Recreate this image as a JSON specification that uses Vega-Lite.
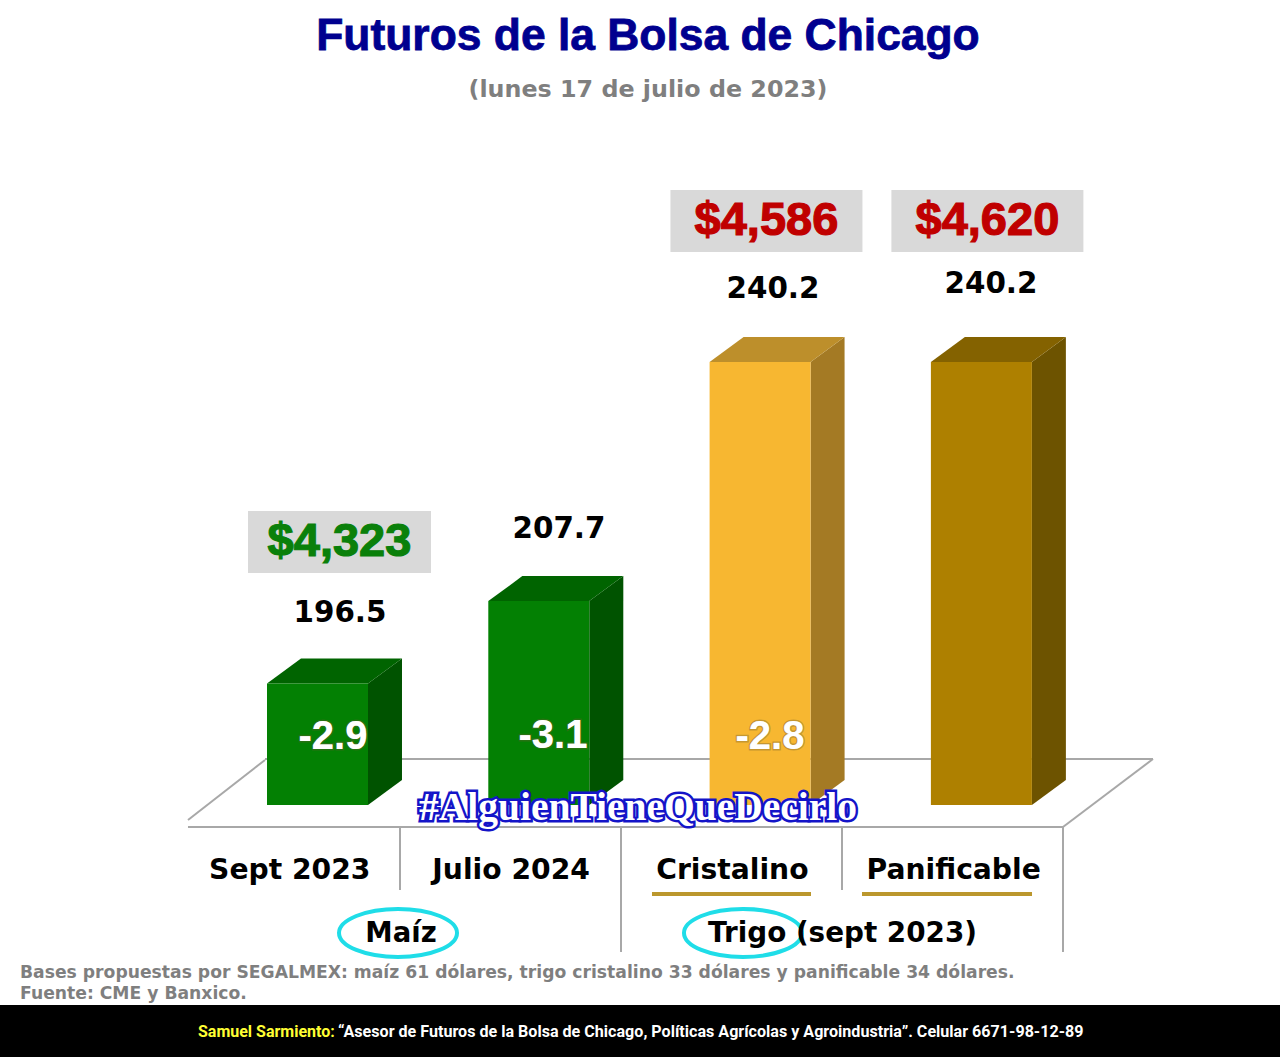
{"$schema":"https://vega.github.io/schema/vega-lite/v6.json","width":1280,"height":1057,"padding":0,"autosize":{"type":"fit","contains":"padding"},"background":"#ffffff","config":{"axis":{"disable":true},"view":{"stroke":null}},
"datasets":{"uno":[{}],"bolsa":[
{"categoria":"Sept 2023","orden":0,"futuro":196.5,"variacion":-2.9,"precio":"$4,323"},
{"categoria":"Julio 2024","orden":1,"futuro":207.7,"variacion":-3.1,"precio":null},
{"categoria":"Cristalino","orden":2,"futuro":240.2,"variacion":-2.8,"precio":"$4,586"},
{"categoria":"Panificable","orden":3,"futuro":240.2,"variacion":null,"precio":"$4,620"}]},
"resolve":{"scale":{"color":"independent"}},
"layer":[
{"data":{"name":"uno"},"mark":{"type":"rect","color":"#000000"},"encoding":{"x":{"datum":-1.2065,"type":"quantitative","scale":{"domain":[-1.2065,4.5775],"nice":false,"zero":false}},"x2":{"datum":4.5775},"y":{"datum":145.76,"type":"quantitative","scale":{"domain":[145.76,289.375],"nice":false,"zero":false}},"y2":{"datum":152.83}}},
{"data":{"name":"uno"},"mark":{"type":"rule","color":"#a8a8a8","strokeWidth":2},"encoding":{"x":{"datum":-0.357,"type":"quantitative"},"x2":{"datum":3.5969},"y":{"datum":177.01,"type":"quantitative"},"y2":{"datum":177.01}}},
{"data":{"name":"uno"},"mark":{"type":"rule","color":"#a8a8a8","strokeWidth":2},"encoding":{"x":{"datum":-0.357,"type":"quantitative"},"x2":{"datum":-0.009},"y":{"datum":177.96,"type":"quantitative"},"y2":{"datum":186.12}}},
{"data":{"name":"uno"},"mark":{"type":"rule","color":"#a8a8a8","strokeWidth":2},"encoding":{"x":{"datum":-0.009,"type":"quantitative"},"x2":{"datum":4.0036},"y":{"datum":186.25,"type":"quantitative"},"y2":{"datum":186.25}}},
{"data":{"name":"uno"},"mark":{"type":"rule","color":"#a8a8a8","strokeWidth":2},"encoding":{"x":{"datum":4.0036,"type":"quantitative"},"x2":{"datum":3.5969},"y":{"datum":186.25,"type":"quantitative"},"y2":{"datum":177.01}}},
{"data":{"name":"uno"},"mark":{"type":"rule","color":"#a8a8a8","strokeWidth":2},"encoding":{"x":{"datum":0.601,"type":"quantitative"},"y":{"datum":177.01,"type":"quantitative"},"y2":{"datum":168.45}}},
{"data":{"name":"uno"},"mark":{"type":"rule","color":"#a8a8a8","strokeWidth":2},"encoding":{"x":{"datum":1.5997,"type":"quantitative"},"y":{"datum":177.01,"type":"quantitative"},"y2":{"datum":160.03}}},
{"data":{"name":"uno"},"mark":{"type":"rule","color":"#a8a8a8","strokeWidth":2},"encoding":{"x":{"datum":2.5983,"type":"quantitative"},"y":{"datum":177.01,"type":"quantitative"},"y2":{"datum":168.45}}},
{"data":{"name":"uno"},"mark":{"type":"rule","color":"#a8a8a8","strokeWidth":2},"encoding":{"x":{"datum":3.5969,"type":"quantitative"},"y":{"datum":177.01,"type":"quantitative"},"y2":{"datum":160.03}}},
{"data":{"name":"uno"},"mark":{"type":"rule","color":"#bb972d","strokeWidth":4},"encoding":{"x":{"datum":1.7397,"type":"quantitative"},"x2":{"datum":2.4582},"y":{"datum":167.91,"type":"quantitative"}}},
{"data":{"name":"uno"},"mark":{"type":"rule","color":"#bb972d","strokeWidth":4},"encoding":{"x":{"datum":2.6887,"type":"quantitative"},"x2":{"datum":3.4569},"y":{"datum":167.91,"type":"quantitative"}}},
{"data":{"name":"bolsa"},"transform":[{"calculate":"[0,1]","as":"t"},{"flatten":["t"]},{"calculate":"datum.orden+0.4564+datum.t*0.1536","as":"xs"},{"calculate":"datum.futuro+datum.t*3.397","as":"ys"},{"calculate":"180+datum.t*3.397","as":"yb"}],
"mark":{"type":"area","opacity":1},"encoding":{"x":{"field":"xs","type":"quantitative"},"y":{"field":"ys","type":"quantitative"},"y2":{"field":"yb"},"color":{"field":"categoria","type":"nominal","legend":null,"scale":{"domain":["Sept 2023","Julio 2024","Cristalino","Panificable"],"range":["#005300","#005300","#a47a24","#6d5300"]}}}},
{"data":{"name":"bolsa"},"transform":[{"calculate":"[0,1]","as":"t"},{"flatten":["t"]},{"calculate":"datum.orden+datum.t*0.1536","as":"xi"},{"calculate":"datum.orden+0.4564+datum.t*0.1536","as":"xd"},{"calculate":"datum.futuro+datum.t*3.397","as":"ys"}],
"mark":{"type":"area","orient":"horizontal","opacity":1},"encoding":{"y":{"field":"ys","type":"quantitative"},"x":{"field":"xi","type":"quantitative"},"x2":{"field":"xd"},"color":{"field":"categoria","type":"nominal","legend":null,"scale":{"domain":["Sept 2023","Julio 2024","Cristalino","Panificable"],"range":["#006400","#006400","#bd8f2b","#846200"]}}}},
{"data":{"name":"bolsa"},"transform":[{"calculate":"datum.orden+0.4564","as":"xd"},{"calculate":"180","as":"base"}],
"mark":{"type":"rect"},"encoding":{"x":{"field":"orden","type":"quantitative"},"x2":{"field":"xd"},"y":{"field":"futuro","type":"quantitative"},"y2":{"field":"base"},"color":{"field":"categoria","type":"nominal","legend":null,"scale":{"domain":["Sept 2023","Julio 2024","Cristalino","Panificable"],"range":["#038003","#038003","#f7b731","#ae8000"]}}}},
{"data":{"name":"bolsa"},"transform":[{"filter":"datum.precio != null"},{"calculate":"datum.orden+[0.3276,0,0.2569,0.2553][datum.orden]","as":"cx"},{"calculate":"[0.4135,0,0.4338,0.4338][datum.orden]","as":"hx"},{"calculate":"[215.73,0,259.35,259.35][datum.orden]","as":"cy"},{"calculate":"datum.cx-datum.hx","as":"x1"},{"calculate":"datum.cx+datum.hx","as":"x2b"},{"calculate":"datum.cy-4.212","as":"y1"},{"calculate":"datum.cy+4.212","as":"y2b"}],
"mark":{"type":"rect","color":"#d9d9d9"},"encoding":{"x":{"field":"x1","type":"quantitative"},"x2":{"field":"x2b"},"y":{"field":"y1","type":"quantitative"},"y2":{"field":"y2b"}}},
{"data":{"name":"bolsa"},"transform":[{"filter":"datum.precio != null"},{"calculate":"datum.orden+[0.3276,0,0.2569,0.2553][datum.orden]","as":"cx"},{"calculate":"[215.73,0,259.35,259.35][datum.orden]","as":"cy"}],
"mark":{"type":"text","font":"Liberation Sans","fontWeight":"bold","fontSize":47,"baseline":"middle","align":"center","strokeWidth":1.2},"encoding":{"x":{"field":"cx","type":"quantitative"},"y":{"field":"cy","type":"quantitative"},"text":{"field":"precio"},"color":{"field":"categoria","type":"nominal","legend":null,"scale":{"domain":["Sept 2023","Cristalino","Panificable"],"range":["#0a800a","#c00000","#c00000"]}},"stroke":{"field":"categoria","type":"nominal","legend":null,"scale":{"domain":["Sept 2023","Cristalino","Panificable"],"range":["#0a800a","#c00000","#c00000"]}}}},
{"data":{"name":"bolsa"},"transform":[{"calculate":"datum.orden+[0.3299,0.3195,0.2865,0.2716][datum.orden]","as":"lx"},{"calculate":"datum.futuro+[9.86,10.07,10.18,10.86][datum.orden]","as":"ly"},{"calculate":"format(datum.futuro,'.1f')","as":"etiqueta"}],
"mark":{"type":"text","font":"DejaVu Sans","fontWeight":"bold","fontSize":29.4,"baseline":"middle","align":"center","dy":2,"color":"#000000"},"encoding":{"x":{"field":"lx","type":"quantitative"},"y":{"field":"ly","type":"quantitative"},"text":{"field":"etiqueta"}}},
{"data":{"name":"bolsa"},"transform":[{"filter":"datum.variacion != null"},{"calculate":"datum.orden+[0.298,0.2924,0.273,0][datum.orden]","as":"lx"},{"calculate":"[189.51,189.65,189.51,0][datum.orden]","as":"ly"},{"calculate":"toString(datum.variacion)","as":"etiqueta"}],
"mark":{"type":"text","font":"Liberation Sans","fontWeight":"bold","fontSize":40,"baseline":"middle","align":"center","dy":2,"color":"#ffffff","stroke":"#6b5a30","strokeOpacity":0.35,"strokeWidth":3},"encoding":{"x":{"field":"lx","type":"quantitative"},"y":{"field":"ly","type":"quantitative"},"text":{"field":"etiqueta"}}},
{"data":{"name":"bolsa"},"transform":[{"filter":"datum.variacion != null"},{"calculate":"datum.orden+[0.298,0.2924,0.273,0][datum.orden]","as":"lx"},{"calculate":"[189.51,189.65,189.51,0][datum.orden]","as":"ly"},{"calculate":"toString(datum.variacion)","as":"etiqueta"}],
"mark":{"type":"text","font":"Liberation Sans","fontWeight":"bold","fontSize":40,"baseline":"middle","align":"center","dy":2,"color":"#ffffff"},"encoding":{"x":{"field":"lx","type":"quantitative"},"y":{"field":"ly","type":"quantitative"},"text":{"field":"etiqueta"}}},
{"data":{"name":"bolsa"},"transform":[{"calculate":"datum.orden+0.103","as":"lx"},{"calculate":"171.31","as":"ly"}],
"mark":{"type":"text","font":"DejaVu Sans","fontWeight":"bold","fontSize":28.2,"baseline":"middle","align":"center","dy":2,"color":"#000000"},"encoding":{"x":{"field":"lx","type":"quantitative"},"y":{"field":"ly","type":"quantitative"},"text":{"field":"categoria"}}},
{"data":{"name":"uno"},"mark":{"type":"point","shape":"M-1,0 A1,0.407 0 1,1 1,0 A1,0.407 0 1,1 -1,0 Z","size":13924,"filled":false,"color":"#1fdde8","strokeWidth":4,"opacity":1},"encoding":{"x":{"datum":0.592,"type":"quantitative"},"y":{"datum":162.61,"type":"quantitative"}}},
{"data":{"name":"uno"},"mark":{"type":"point","shape":"M-1,0 A1,0.407 0 1,1 1,0 A1,0.407 0 1,1 -1,0 Z","size":13924,"filled":false,"color":"#1fdde8","strokeWidth":4,"opacity":1},"encoding":{"x":{"datum":2.1509,"type":"quantitative"},"y":{"datum":162.61,"type":"quantitative"}}},
{"data":{"values":[{"texto":"Maíz"}]},"mark":{"type":"text","font":"DejaVu Sans","fontWeight":"bold","fontSize":27.5,"baseline":"middle","align":"center","dy":2,"color":"#000000"},"encoding":{"x":{"datum":0.6055,"type":"quantitative"},"y":{"datum":162.74,"type":"quantitative"},"text":{"field":"texto"}}},
{"data":{"values":[{"texto":"Trigo (sept 2023)"}]},"mark":{"type":"text","font":"DejaVu Sans","fontWeight":"bold","fontSize":27.8,"baseline":"middle","align":"center","dy":2,"color":"#000000"},"encoding":{"x":{"datum":2.6006,"type":"quantitative"},"y":{"datum":162.74,"type":"quantitative"},"text":{"field":"texto"}}},
{"data":{"values":[{"texto":"#AlguienTieneQueDecirlo"}]},"mark":{"type":"text","font":"Liberation Serif","fontWeight":"bold","fontSize":39.5,"baseline":"middle","align":"center","color":"#1414c8","stroke":"#1414c8","strokeWidth":5},"encoding":{"x":{"datum":1.6765,"type":"quantitative"},"y":{"datum":179.59,"type":"quantitative"},"text":{"field":"texto"}}},
{"data":{"values":[{"texto":"#AlguienTieneQueDecirlo"}]},"mark":{"type":"text","font":"Liberation Serif","fontWeight":"bold","fontSize":39.5,"baseline":"middle","align":"center","color":"#ffffff"},"encoding":{"x":{"datum":1.6765,"type":"quantitative"},"y":{"datum":179.59,"type":"quantitative"},"text":{"field":"texto"}}},
{"data":{"values":[{"texto":"Futuros de la Bolsa de Chicago"}]},"mark":{"type":"text","font":"Liberation Sans","fontWeight":"bold","fontSize":44.4,"baseline":"middle","align":"center","dy":2,"color":"#00008f","stroke":"#00008f","strokeWidth":0.8},"encoding":{"x":{"datum":1.7216,"type":"quantitative"},"y":{"datum":284.62,"type":"quantitative"},"text":{"field":"texto"}}},
{"data":{"values":[{"texto":"(lunes 17 de julio de 2023)"}]},"mark":{"type":"text","font":"DejaVu Sans","fontWeight":"bold","fontSize":23.8,"baseline":"middle","align":"center","dy":2,"color":"#7f7f7f"},"encoding":{"x":{"datum":1.7216,"type":"quantitative"},"y":{"datum":277.42,"type":"quantitative"},"text":{"field":"texto"}}},
{"data":{"values":[{"texto":"Bases propuestas por SEGALMEX: maíz 61 dólares, trigo cristalino 33 dólares y panificable 34 dólares."}]},"mark":{"type":"text","font":"DejaVu Sans","fontWeight":"bold","fontSize":17.2,"baseline":"middle","align":"left","dy":1,"color":"#7f7f7f"},"encoding":{"x":{"datum":-1.1161,"type":"quantitative"},"y":{"datum":157.31,"type":"quantitative"},"text":{"field":"texto"}}},
{"data":{"values":[{"texto":"Fuente: CME y Banxico."}]},"mark":{"type":"text","font":"DejaVu Sans","fontWeight":"bold","fontSize":17.2,"baseline":"middle","align":"left","dy":1,"color":"#7f7f7f"},"encoding":{"x":{"datum":-1.1161,"type":"quantitative"},"y":{"datum":154.46,"type":"quantitative"},"text":{"field":"texto"}}},
{"data":{"values":[{"texto":"Samuel Sarmiento:"}]},"mark":{"type":"text","font":"Roboto","fontWeight":"bold","fontSize":16,"baseline":"middle","align":"left","color":"#ffff33"},"encoding":{"x":{"datum":-0.3118,"type":"quantitative"},"y":{"datum":149.16,"type":"quantitative"},"text":{"field":"texto"}}},
{"data":{"values":[{"texto":"“Asesor de Futuros de la Bolsa de Chicago, Políticas Agrícolas y Agroindustria”. Celular 6671-98-12-89"}]},"mark":{"type":"text","font":"Roboto","fontWeight":"bold","fontSize":16.1,"baseline":"middle","align":"left","color":"#ffffff"},"encoding":{"x":{"datum":0.3208,"type":"quantitative"},"y":{"datum":149.16,"type":"quantitative"},"text":{"field":"texto"}}}
]}
